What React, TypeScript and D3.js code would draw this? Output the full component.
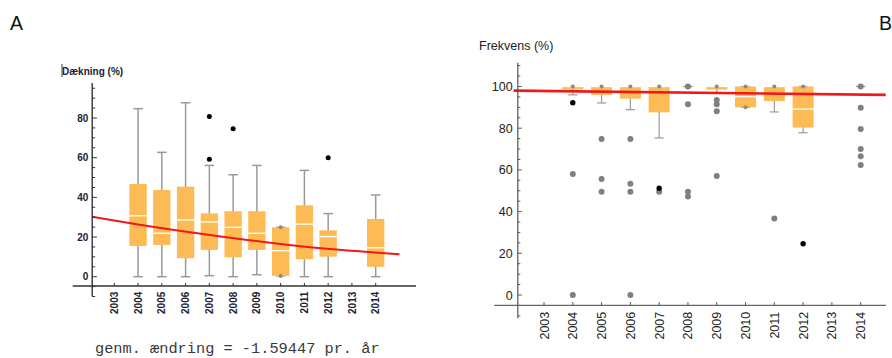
import React from 'react';
import * as d3 from 'd3';

// tick labels (years)
const years = [2003, 2004, 2005, 2006, 2007, 2008, 2009, 2010, 2011, 2012, 2013, 2014];

// Panel A: Dækning (%)
const boxesA = [
  { year: 2004, lo: 0, q1: 15.5, med: 30.7, q3: 46.7, hi: 84.7 },
  { year: 2005, lo: 0, q1: 16, med: 21.9, q3: 43.7, hi: 62.7 },
  { year: 2006, lo: 0, q1: 9.3, med: 28.6, q3: 45.4, hi: 87.7 },
  { year: 2007, lo: 0.5, q1: 13.5, med: 27.6, q3: 31.9, hi: 56.1 },
  { year: 2008, lo: 0, q1: 9.8, med: 24.9, q3: 33, hi: 51.4 },
  { year: 2009, lo: 1, q1: 13.5, med: 21.9, q3: 33, hi: 56.1 },
  { year: 2010, lo: 0.4, q1: 0.4, med: 13.1, q3: 24.9, hi: 24.9 },
  { year: 2011, lo: 0, q1: 8.8, med: 26.5, q3: 36, hi: 53.6 },
  { year: 2012, lo: 0, q1: 10.1, med: 20.2, q3: 23.4, hi: 31.8 },
  { year: 2014, lo: 0, q1: 5, med: 14.6, q3: 29.1, hi: 41.2 },
];
const farA = [
  { year: 2007, v: 80.8 },
  { year: 2007, v: 59.2 },
  { year: 2008, v: 74.6 },
  { year: 2012, v: 60 },
];
const trendA = [
  [2002.06, 30.2],
  [2004, 26.3],
  [2007.03, 21.0],
  [2011.24, 14.8],
  [2015.0, 11.3],
];
const yTicksA = [0, 20, 40, 60, 80];

// Panel B: Frekvens (%)
const boxesB = [
  { year: 2004, lo: 96, q1: 98.6, med: 100, q3: 100, hi: 100 },
  { year: 2005, lo: 92.1, q1: 96, med: 100, q3: 100, hi: 100 },
  { year: 2006, lo: 88.9, q1: 94.2, med: 100, q3: 100, hi: 100 },
  { year: 2007, lo: 75.3, q1: 87.6, med: 100, q3: 100, hi: 100 },
  { year: 2008, lo: 100, q1: 100, med: 100, q3: 100, hi: 100 },
  { year: 2009, lo: 97, q1: 98.5, med: 100, q3: 100, hi: 100 },
  { year: 2010, lo: 90, q1: 90, med: 95.1, q3: 100, hi: 100 },
  { year: 2011, lo: 87.8, q1: 93, med: 100, q3: 100, hi: 100 },
  { year: 2012, lo: 77.8, q1: 80.3, med: 89.2, q3: 100, hi: 100 },
  { year: 2014, lo: 100, q1: 100, med: 100, q3: 100, hi: 100 },
];
const nearB = [
  { year: 2004, v: 58 }, { year: 2004, v: 0 },
  { year: 2005, v: 74.8 }, { year: 2005, v: 55.6 }, { year: 2005, v: 49.5 },
  { year: 2006, v: 74.8 }, { year: 2006, v: 53.4 }, { year: 2006, v: 49.5 }, { year: 2006, v: 0 },
  { year: 2007, v: 49.5 },
  { year: 2008, v: 100 }, { year: 2008, v: 91.5 }, { year: 2008, v: 49.5 }, { year: 2008, v: 47.2 },
  { year: 2009, v: 93.5 }, { year: 2009, v: 91.5 }, { year: 2009, v: 88.1 }, { year: 2009, v: 57.1 },
  { year: 2011, v: 36.7 },
  { year: 2014, v: 100 }, { year: 2014, v: 89.8 }, { year: 2014, v: 79.6 },
  { year: 2014, v: 70 }, { year: 2014, v: 66.6 }, { year: 2014, v: 62.4 },
];
const farB = [
  { year: 2004, v: 92.2 },
  { year: 2007, v: 51.2 },
  { year: 2012, v: 24.6 },
];
const trendB = [
  [2001.94, 98.0],
  [2014.87, 96.0],
];
const yTicksB = [0, 20, 40, 60, 80, 100];

const ORANGE = '#fdbb55';
const WHISK = '#9a9a9a';
const RED = '#f01818';

type Box = { year: number; lo: number; q1: number; med: number; q3: number; hi: number };

const Boxes = ({ boxes, x, y, bw, cap, sw }: any) => (
  <g>
    {boxes.map((b: Box) => {
      const cx = x(b.year);
      return (
        <g key={b.year}>
          <line x1={cx} x2={cx} y1={y(b.lo)} y2={y(b.hi)} stroke={WHISK} strokeWidth={sw} />
          <line x1={cx - cap / 2} x2={cx + cap / 2} y1={y(b.hi)} y2={y(b.hi)} stroke={WHISK} strokeWidth={sw} />
          <line x1={cx - cap / 2} x2={cx + cap / 2} y1={y(b.lo)} y2={y(b.lo)} stroke={WHISK} strokeWidth={sw} />
          {b.q3 > b.q1 && (
            <rect x={cx - bw / 2} y={y(b.q3)} width={bw} height={y(b.q1) - y(b.q3)} fill={ORANGE} />
          )}
          {b.q3 > b.q1 && (
            <line x1={cx - bw / 2} x2={cx + bw / 2} y1={y(b.med)} y2={y(b.med)} stroke="#fff" strokeWidth={1.3} />
          )}
          {b.hi === b.q3 && <circle cx={cx} cy={y(b.hi)} r={2} fill="#8a8a8a" />}
          {b.lo === b.q1 && <circle cx={cx} cy={y(b.lo)} r={2} fill="#8a8a8a" />}
        </g>
      );
    })}
  </g>
);

export default function App() {
  // panel A scales
  const xA = d3.scaleLinear().domain([2003, 2014]).range([114.3, 375.7]);
  const yA = d3.scaleLinear().domain([0, 80]).range([276.7, 118]);
  const axA = xA(2002.07);
  const xAxisA = yA(-4.7);
  const stepA = xA(1) - xA(0);

  // panel B scales
  const xB = d3.scaleLinear().domain([2003, 2014]).range([544, 860.7]);
  const yB = d3.scaleLinear().domain([0, 100]).range([295, 86.5]);
  const axB = xB(2002.09);
  const xAxisB = yB(-5);
  const stepB = xB(1) - xB(0);

  const lineA = d3.line<number[]>().x((d) => xA(d[0])).y((d) => yA(d[1])).curve(d3.curveMonotoneX);
  const lineB = d3.line<number[]>().x((d) => xB(d[0])).y((d) => yB(d[1]));

  const minorA = d3.range(-10, 100, 5);
  const minorB = d3.range(-10, 115, 5);

  return (
    <svg width={892} height={358} style={{ position: 'absolute', left: 0, top: 0, background: '#fff' }}
      fontFamily="Liberation Sans, Arial, sans-serif">
      {/* panel letters */}
      <text x={10} y={30} fontSize={19.5} fill="#111">A</text>
      <text x={879} y={30} fontSize={19.5} fill="#111">B</text>

      {/* ---------- Panel A ---------- */}
      <line x1={62} x2={62} y1={64} y2={77} stroke="#345" strokeWidth={1} />
      <text x={62} y={74.5} fontSize={10} fontWeight="bold" fill="#223">Dækning (%)</text>

      <Boxes boxes={boxesA} x={xA} y={yA} bw={stepA * 0.73} cap={stepA * 0.4} sw={1.5} />
      {farA.map((d, i) => (
        <circle key={i} cx={xA(d.year)} cy={yA(d.v)} r={2.5} fill="#000" />
      ))}
      <path d={lineA(trendA) || ''} fill="none" stroke={RED} strokeWidth={2} />

      {/* y axis A */}
      <line x1={axA} x2={axA} y1={yA(97.6)} y2={yA(-10)} stroke="#333" strokeWidth={1.4} />
      {minorA.map((t) => (
        <line key={t} x1={axA} x2={axA + (t % 20 === 0 ? 4.7 : 3)} y1={yA(t)} y2={yA(t)} stroke="#333" strokeWidth={1} />
      ))}
      {yTicksA.map((t) => (
        <text key={t} x={88.3} y={yA(t)} dy="0.36em" textAnchor="end" fontSize={10} fontWeight="bold" fill="#223">{t}</text>
      ))}
      {/* x axis A */}
      <line x1={72.7} x2={416} y1={xAxisA} y2={xAxisA} stroke="#333" strokeWidth={1.4} />
      {years.map((yr) => (
        <g key={yr}>
          <line x1={xA(yr)} x2={xA(yr)} y1={xAxisA} y2={xAxisA - 3} stroke="#333" strokeWidth={1} />
          <text transform={`translate(${xA(yr)},${xAxisA + 5.7}) rotate(-90)`} dy="0.36em" textAnchor="end"
            fontSize={10} fontWeight="bold" fill="#223">{yr}</text>
        </g>
      ))}
      <text x={95} y={353} fontFamily="Liberation Mono, Courier New, monospace" fontSize={15.3} fill="#3a3a3a">
        genm. ændring = -1.59447 pr. år
      </text>

      {/* ---------- Panel B ---------- */}
      <text x={479} y={50} fontSize={12.5} fill="#222">Frekvens (%)</text>

      <Boxes boxes={boxesB} x={xB} y={yB} bw={stepB * 0.73} cap={stepB * 0.32} sw={1.2} />
      {nearB.map((d, i) => (
        <circle key={i} cx={xB(d.year)} cy={yB(d.v)} r={3} fill="#808080" />
      ))}
      {farB.map((d, i) => (
        <circle key={i} cx={xB(d.year)} cy={yB(d.v)} r={2.7} fill="#000" />
      ))}
      <path d={lineB(trendB) || ''} fill="none" stroke={RED} strokeWidth={2.6} />

      {/* y axis B */}
      <line x1={axB} x2={axB} y1={yB(111.4)} y2={yB(-11.2)} stroke="#555" strokeWidth={1.2} />
      {minorB.map((t) => (
        <line key={t} x1={axB} x2={axB + (t % 20 === 0 ? 4 : 2.5)} y1={yB(t)} y2={yB(t)} stroke="#555" strokeWidth={1} />
      ))}
      {yTicksB.map((t) => (
        <text key={t} x={512.7} y={yB(t)} dy="0.36em" textAnchor="end" fontSize={12.5} fill="#222">{t}</text>
      ))}
      {/* x axis B */}
      <line x1={494.3} x2={886} y1={xAxisB} y2={xAxisB} stroke="#666" strokeWidth={1.3} />
      {years.map((yr) => (
        <g key={yr}>
          <line x1={xB(yr)} x2={xB(yr)} y1={xAxisB} y2={xAxisB - 3.3} stroke="#555" strokeWidth={1} />
          <text transform={`translate(${xB(yr)},${xAxisB + 6.3}) rotate(-90)`} dy="0.36em" textAnchor="end"
            fontSize={12.5} fill="#222">{yr}</text>
        </g>
      ))}
    </svg>
  );
}
